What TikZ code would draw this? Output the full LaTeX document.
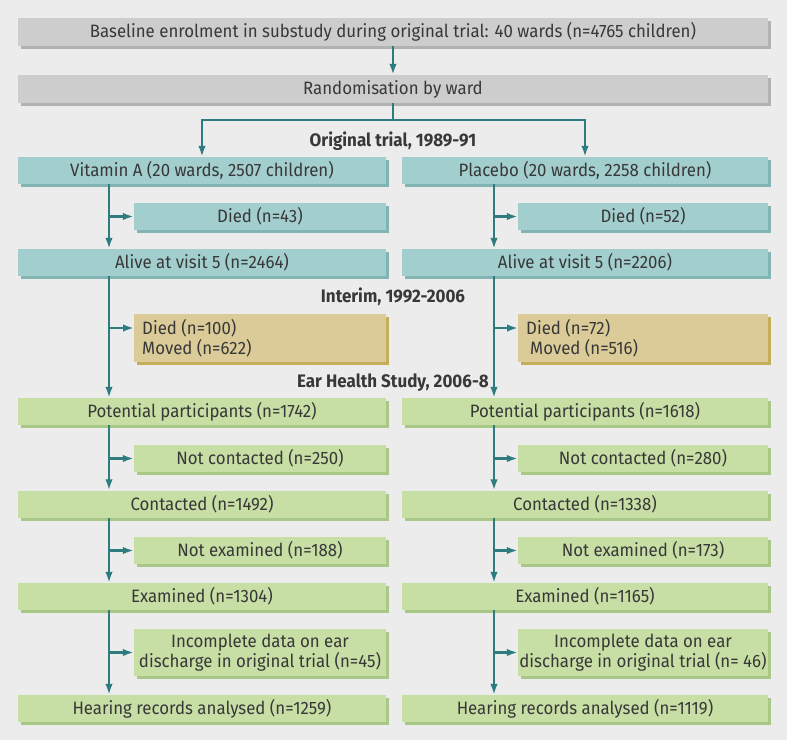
\documentclass[tikz,border=0pt]{standalone}
\usepackage{fontspec}
\setmainfont{Fira Sans}[FakeStretch=0.94]
\usetikzlibrary{shadows,arrows.meta}
\definecolor{bgc}{HTML}{ECECEC}
\definecolor{greyf}{HTML}{CDCDCD}
\definecolor{greys}{HTML}{B2B2B2}
\definecolor{tealf}{HTML}{A3CECE}
\definecolor{teals}{HTML}{82B4B4}
\definecolor{tanf}{HTML}{DACB98}
\definecolor{tans}{HTML}{C4AE58}
\definecolor{greenf}{HTML}{C7DEA5}
\definecolor{greens}{HTML}{A9C787}
\definecolor{arr}{HTML}{2F7C80}
\definecolor{txt}{HTML}{383838}
\tikzset{
  boxbase/.style={inner sep=0pt, text=txt, font=\fontsize{17.9}{20}\selectfont},
  greybox/.style={boxbase, fill=greyf, drop shadow={shadow xshift=3pt, shadow yshift=-3pt, fill=greys, opacity=1}},
  tealbox/.style={boxbase, fill=tealf, drop shadow={shadow xshift=3pt, shadow yshift=-3pt, fill=teals, opacity=1}},
  tanbox/.style={boxbase, fill=tanf, drop shadow={shadow xshift=3pt, shadow yshift=-3pt, fill=tans, opacity=1}},
  greenbox/.style={boxbase, fill=greenf, drop shadow={shadow xshift=3pt, shadow yshift=-3pt, fill=greens, opacity=1}},
  mainL/.style={minimum width=368pt},
  mainR/.style={minimum width=366pt},
  sideL/.style={minimum width=252pt},
  sideR/.style={minimum width=250pt},
  oneline/.style={minimum height=27pt},
  twoline/.style={minimum height=47pt, align=center},
  heading/.style={text=txt, font=\fontsize{18.1}{20}\selectfont\bfseries, inner sep=0pt},
  flow/.style={draw=arr, line width=2.4pt, -{Latex[length=11pt,width=7.5pt]}},
  plain/.style={draw=arr, line width=2.4pt},
}
\begin{document}
\begin{tikzpicture}[x=1pt,y=-1pt]
\fill[bgc] (0,0) rectangle (787,740);
\useasboundingbox (0,0) rectangle (787,740);

% top
\node[greybox, minimum width=750pt, minimum height=28pt] (base) at (393,32) {Baseline enrolment in substudy during original trial: 40 wards (n=4765 children)};
\node[greybox, minimum width=750pt, minimum height=28pt] (rand) at (393,89) {Randomisation by ward};
\node[heading] (h1) at (393,141) {Original trial, 1989-91};
\node[heading] (h2) at (393,297) {Interim, 1992-2006};
\node[heading] (h3) at (393,383) {Ear Health Study, 2006-8};

% left column
\node[tealbox, mainL, oneline] (va) at (202,170.5) {Vitamin A (20 wards, 2507 children)};
\node[tealbox, sideL, oneline] (vad) at (260,216.5) {Died (n=43)};
\node[tealbox, mainL, oneline] (va5) at (202,262.5) {Alive at visit 5 (n=2464)};
\node[tanbox, sideL, minimum height=48pt, anchor=north west] (vai) at (134,314) {};
\node[boxbase, align=left, anchor=west] (vait) at (142,338) {Died (n=100)\\Moved (n=622)};
\node[greenbox, mainL, oneline] (vapp) at (202,411.5) {Potential participants (n=1742)};
\node[greenbox, sideL, oneline] (vanc) at (260,458.5) {Not contacted (n=250)};
\node[greenbox, mainL, oneline] (vac) at (202,504) {Contacted (n=1492)};
\node[greenbox, sideL, oneline] (vane) at (260,550.5) {Not examined (n=188)};
\node[greenbox, mainL, oneline] (vaex) at (202,596.5) {Examined (n=1304)};
\node[greenbox, sideL, twoline] (vaid) at (260,652.5) {Incomplete data on ear\\discharge in original trial (n=45)};
\node[greenbox, mainL, oneline] (vahr) at (202,708.5) {Hearing records analysed (n=1259)};

% right column
\node[tealbox, mainR, oneline] (pl) at (585,170.5) {Placebo (20 wards, 2258 children)};
\node[tealbox, sideR, oneline] (pld) at (643,216.5) {Died (n=52)};
\node[tealbox, mainR, oneline] (pl5) at (585,262.5) {Alive at visit 5 (n=2206)};
\node[tanbox, sideR, minimum height=48pt, anchor=north west] (pli) at (518,314) {};
\node[boxbase, align=left, anchor=west] (plit) at (526,338) {Died (n=72)\\\hspace*{4pt}Moved (n=516)};
\node[greenbox, mainR, oneline] (plpp) at (585,411.5) {Potential participants (n=1618)};
\node[greenbox, sideR, oneline] (plnc) at (643,458.5) {Not contacted (n=280)};
\node[greenbox, mainR, oneline] (plc) at (585,504) {Contacted (n=1338)};
\node[greenbox, sideR, oneline] (plne) at (643,550.5) {Not examined (n=173)};
\node[greenbox, mainR, oneline] (plex) at (585,596.5) {Examined (n=1165)};
\node[greenbox, sideR, twoline] (plid) at (643,652.5) {Incomplete data on ear\\discharge in original trial (n= 46)};
\node[greenbox, mainR, oneline] (plhr) at (585,708.5) {Hearing records analysed (n=1119)};

% stems
\coordinate (sL) at (109,0);
\coordinate (sR) at (494,0);
\coordinate (split) at (393,120);
\coordinate (iL) at (0,328);

% connectors top
\draw[flow] (base.south) -- (rand.north);
\draw[plain] (rand.south) -- (split);
\draw[flow] (split) -| (va.north);
\draw[flow] (split) -| (pl.north);

% left verticals
\draw[flow] (va.south -| sL) -- (va5.north -| sL);
\draw[flow] (va5.south -| sL) -- (vapp.north -| sL);
\draw[flow] (vapp.south -| sL) -- (vac.north -| sL);
\draw[flow] (vac.south -| sL) -- (vaex.north -| sL);
\draw[flow] (vaex.south -| sL) -- (vahr.north -| sL);
% left side arrows
\draw[flow] (vad.west -| sL) -- (vad.west);
\draw[flow] (sL |- iL) -- (vai.west |- iL);
\draw[flow] (vanc.west -| sL) -- (vanc.west);
\draw[flow] (vane.west -| sL) -- (vane.west);
\draw[flow] (vaid.west -| sL) -- (vaid.west);

% right verticals
\draw[flow] (pl.south -| sR) -- (pl5.north -| sR);
\draw[flow] (pl5.south -| sR) -- (plpp.north -| sR);
\draw[flow] (plpp.south -| sR) -- (plc.north -| sR);
\draw[flow] (plc.south -| sR) -- (plex.north -| sR);
\draw[flow] (plex.south -| sR) -- (plhr.north -| sR);
% right side arrows
\draw[flow] (pld.west -| sR) -- (pld.west);
\draw[flow] (sR |- iL) -- (pli.west |- iL);
\draw[flow] (plnc.west -| sR) -- (plnc.west);
\draw[flow] (plne.west -| sR) -- (plne.west);
\draw[flow] (plid.west -| sR) -- (plid.west);
\end{tikzpicture}
\end{document}
